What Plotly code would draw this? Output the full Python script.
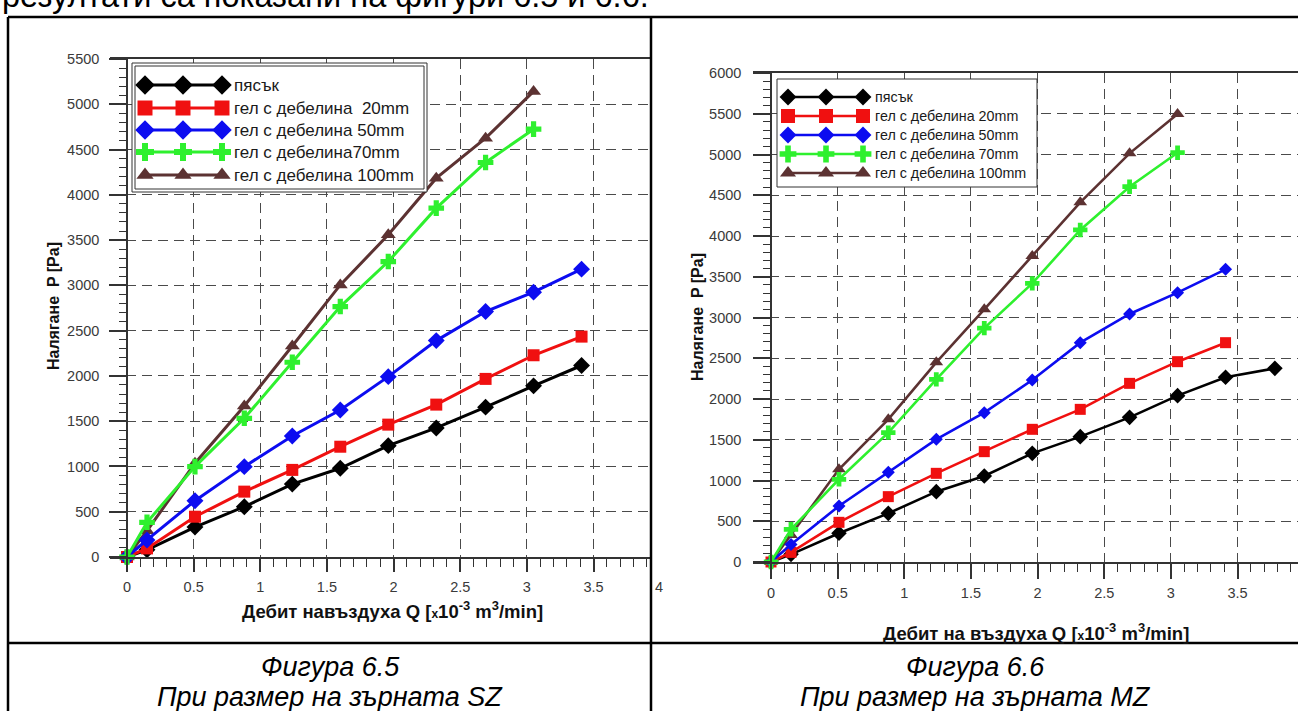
import numpy as np
import plotly.graph_objects as go

W, H = 1298, 711

# ---------------- data: Фигура 6.5 (SZ) ----------------
q_sz = [0, 0.15, 0.51, 0.88, 1.24, 1.60, 1.96, 2.32, 2.69, 3.05, 3.41]
sz_sand = [0, 80, 330, 555, 805, 980, 1230, 1425, 1655, 1890, 2115]
sz_gel20 = [0, 95, 445, 722, 962, 1218, 1462, 1683, 1967, 2228, 2434]
sz_gel50 = [0, 188, 622, 998, 1337, 1624, 1992, 2390, 2711, 2925, 3179]
sz_gel70 = [0, 383, 998, 1532, 2151, 2766, 3263, 3853, 4357, 4725]
sz_gel100 = [0, 290, 1035, 1668, 2331, 3005, 3558, 4184, 4626, 5142]

# ---------------- data: Фигура 6.6 (MZ) ----------------
q_mz = [0, 0.15, 0.51, 0.88, 1.24, 1.60, 1.96, 2.32, 2.69, 3.05, 3.41, 3.78]
mz_sand = [0, 94, 352, 597, 863, 1055, 1333, 1538, 1775, 2041, 2266, 2376]
mz_gel20 = [0, 118, 487, 802, 1088, 1354, 1628, 1873, 2192, 2458, 2691]
mz_gel50 = [0, 216, 687, 1100, 1505, 1832, 2233, 2691, 3043, 3305, 3591]
mz_gel70 = [0, 401, 1015, 1587, 2241, 2870, 3419, 4074, 4605, 5022]
mz_gel100 = [0, 331, 1137, 1751, 2450, 3100, 3755, 4413, 5014, 5497]

names_sz = ["пясък", "гел с дебелина\u00a0 20mm", "гел с дебелина 50mm",
            "гел с дебелина70mm", "гел с дебелина 100mm"]
names_mz = ["пясък", "гел с дебелина 20mm", "гел с дебелина 50mm",
            "гел с дебелина 70mm", "гел с дебелина 100mm"]

y_title = "Налягане  P [Pa]"
x_title_sz = "Дебит навъздуха Q [<span style='font-size:12px'>x</span>10<sup>-3</sup> m<sup>3</sup>/min]"
x_title_mz = "Дебит на въздуха Q [<span style='font-size:12px'>x</span>10<sup>-3</sup> m<sup>3</sup>/min]"
top_text = "резултати са показани на фигури 6.5 и 6.6."
cap_fig = ["Фигура 6.5", "Фигура 6.6"]
cap_sub = ["При размер на зърната SZ", "При размер на зърната MZ"]
cut_tick_label = "4"   # tick label of the left chart peeking past the table divider

# ---------------- styles ----------------
colors = ["#000000", "#f01010", "#0c0cf0", "#2ef02e", "#5c3232"]
symbols = ["diamond", "square", "diamond", "cross", "triangle-up"]
msize_sz = [13, 12, 13, 13, 13]
msize_mz = [12, 11, 10, 12, 12]
FONT = "Liberation Sans, Arial, sans-serif"
GRID = "#4a4a4a"
AX = "#333333"


def fx(px):
    return px / W


def fy(py):
    return 1 - py / H


fig = go.Figure()

series_sz = [sz_sand, sz_gel20, sz_gel50, sz_gel70, sz_gel100]
series_mz = [mz_sand, mz_gel20, mz_gel50, mz_gel70, mz_gel100]
draw_order = [4, 0, 1, 2, 3]

for i in draw_order:
    vals = series_sz[i]
    fig.add_trace(go.Scatter(
        x=q_sz[:len(vals)], y=vals, mode="lines+markers", xaxis="x", yaxis="y",
        line=dict(color=colors[i], width=3),
        marker=dict(symbol=symbols[i], size=msize_sz[i], color=colors[i]),
        cliponaxis=False, showlegend=False, name=names_sz[i]))
for i in draw_order:
    vals = series_mz[i]
    fig.add_trace(go.Scatter(
        x=q_mz[:len(vals)], y=vals, mode="lines+markers", xaxis="x2", yaxis="y2",
        line=dict(color=colors[i], width=2.6),
        marker=dict(symbol=symbols[i], size=msize_mz[i], color=colors[i]),
        cliponaxis=False, showlegend=False, name=names_mz[i]))

# ---------------- custom legends on a pixel overlay axis ----------------
def box(x0, y0, x1, y1, fill=True, width=1):
    fig.add_trace(go.Scatter(
        x=[x0, x1, x1, x0, x0], y=[y0, y0, y1, y1, y0], mode="lines",
        fill="toself" if fill else None, fillcolor="white",
        line=dict(color="#333333", width=width), xaxis="x3", yaxis="y3",
        showlegend=False, hoverinfo="skip"))


annotations = []

legends = [
    dict(box=(132, 63, 427, 192), inner=True, rows=[85, 108, 130, 152, 175],
         mx=[145, 183, 222], tx=232, fs=17, ms=[15, 15, 15, 15, 15], lw=3, names=names_sz),
    dict(box=(777, 79, 1037, 187), inner=False, rows=[97, 116, 135, 154, 173],
         mx=[788, 826, 863], tx=873, fs=14.3, ms=[13, 14, 13, 14, 14], lw=2.6, names=names_mz),
]
for lg in legends:
    x0, y0, x1, y1 = lg["box"]
    box(x0, y0, x1, y1, fill=True)
    if lg["inner"]:
        box(x0 + 3, y0 + 3, x1 - 3, y1 - 3, fill=False)
    for i in range(5):
        yy = lg["rows"][i]
        fig.add_trace(go.Scatter(
            x=lg["mx"], y=[yy] * 3, mode="lines+markers", xaxis="x3", yaxis="y3",
            line=dict(color=colors[i], width=lg["lw"]),
            marker=dict(symbol=symbols[i], size=lg["ms"][i], color=colors[i]),
            showlegend=False, hoverinfo="skip"))
        annotations.append(dict(
            x=lg["tx"], y=yy, xref="x3", yref="y3", text=lg["names"][i],
            showarrow=False, xanchor="left", yanchor="middle",
            font=dict(family=FONT, size=lg["fs"], color="#1a1a1a")))


def xax(domain, rng, anchor, ticklen, standoff):
    return dict(
        domain=domain, range=rng, anchor=anchor, showline=True, linecolor=AX,
        linewidth=1.5, mirror=True, ticks="outside", ticklen=ticklen, tickwidth=1.5,
        tickcolor=AX, tick0=0, dtick=0.5, zeroline=False,
        showgrid=True, gridcolor=GRID, gridwidth=1.4, griddash="10px,6px",
        tickfont=dict(family=FONT, size=14.5, color="#3a3a3a"),
        ticklabelstandoff=standoff,
        minor=dict(tickmode="array", tickvals=[float(v) for v in np.round(np.arange(0.1, 4.0, 0.1), 2)],
                   ticklen=8, tickwidth=1.2, tickcolor=AX, showgrid=False),
        fixedrange=True)


def yax(domain, rng, pos, standoff):
    return dict(
        domain=domain, range=rng, anchor="free", position=pos, showline=True,
        linecolor=AX, linewidth=1.5, ticks="outside", ticklen=17, tickwidth=1.5,
        tickcolor=AX, tick0=0, dtick=500, zeroline=False,
        showgrid=True, gridcolor=GRID, gridwidth=1.4, griddash="10px,6px",
        tickfont=dict(family=FONT, size=14.5, color="#3a3a3a"),
        ticklabelstandoff=standoff,
        minor=dict(dtick=100, ticklen=7, tickwidth=1.2, tickcolor=AX, showgrid=False),
        fixedrange=True)


# pixel geometry of the two plot areas
sx, s0x = 133.3, 127   # px per unit Q, px of Q=0 (left chart)
rx0 = 771              # px of Q=0 (right chart)

layout = dict(
    width=W, height=H, margin=dict(l=0, r=0, t=0, b=0, autoexpand=False),
    paper_bgcolor="white", plot_bgcolor="rgba(0,0,0,0)", showlegend=False,
    xaxis=xax([fx(110), fx(651)], [(110 - s0x) / sx, (651 - s0x) / sx], "y", 13, 3),
    yaxis=yax([fy(557), fy(59)], [0, 5500], fx(s0x), 7),
    xaxis2=xax([fx(753), 1.0], [(753 - rx0) / sx, (W - rx0) / sx], "y2", 15, 2),
    yaxis2=yax([fy(562), fy(73)], [0, 6000], fx(rx0), 9),
    xaxis3=dict(domain=[0, 1], range=[0, W], visible=False, anchor="y3", fixedrange=True),
    yaxis3=dict(domain=[0, 1], range=[H, 0], visible=False, anchor="x3", fixedrange=True),
)
fig.update_layout(**layout)

# axis titles
titles = [
    dict(x=fx(53), y=fy(306), text="<b>" + y_title + "</b>", textangle=-90,
         font=dict(family=FONT, size=16, color="#111")),
    dict(x=fx(697), y=fy(317), text="<b>" + y_title + "</b>", textangle=-90,
         font=dict(family=FONT, size=16, color="#111")),
    dict(x=fx(392), y=fy(610), text="<b>" + x_title_sz + "</b>",
         font=dict(family=FONT, size=18.5, color="#111")),
    dict(x=fx(1036), y=fy(632), text="<b>" + x_title_mz + "</b>",
         font=dict(family=FONT, size=18.5, color="#111")),
    dict(x=fx(659), y=fy(587), text=cut_tick_label,
         font=dict(family=FONT, size=14.5, color="#3a3a3a")),
]
for a in titles:
    a.update(xref="paper", yref="paper", showarrow=False, xanchor="center", yanchor="middle")
annotations += titles

# document text
annotations.append(dict(x=0, y=fy(-4), xref="paper", yref="paper", text=top_text,
                        showarrow=False, xanchor="left", yanchor="middle",
                        font=dict(family=FONT, size=32.5, color="black")))
for k, cx in enumerate([330, 975]):
    annotations.append(dict(x=fx(cx), y=fy(667), xref="paper", yref="paper",
                            text="<i>" + cap_fig[k] + "</i>", showarrow=False,
                            xanchor="center", yanchor="middle",
                            font=dict(family=FONT, size=27, color="black")))
    annotations.append(dict(x=fx(cx), y=fy(697), xref="paper", yref="paper",
                            text="<i>" + cap_sub[k] + "</i>", showarrow=False,
                            xanchor="center", yanchor="middle",
                            font=dict(family=FONT, size=27, color="black")))

fig.update_layout(annotations=annotations)

# table borders
lines = [
    (8, 17, W, 17),
    (8, 17, 8, H),
    (651, 17, 651, H),
    (8, 643, W, 643),
]
fig.update_layout(shapes=[
    dict(type="line", xref="paper", yref="paper", x0=fx(a), y0=fy(b), x1=fx(c), y1=fy(d),
         line=dict(color="black", width=2.5), layer="above")
    for a, b, c, d in lines
])

fig.write_html("out.html")
